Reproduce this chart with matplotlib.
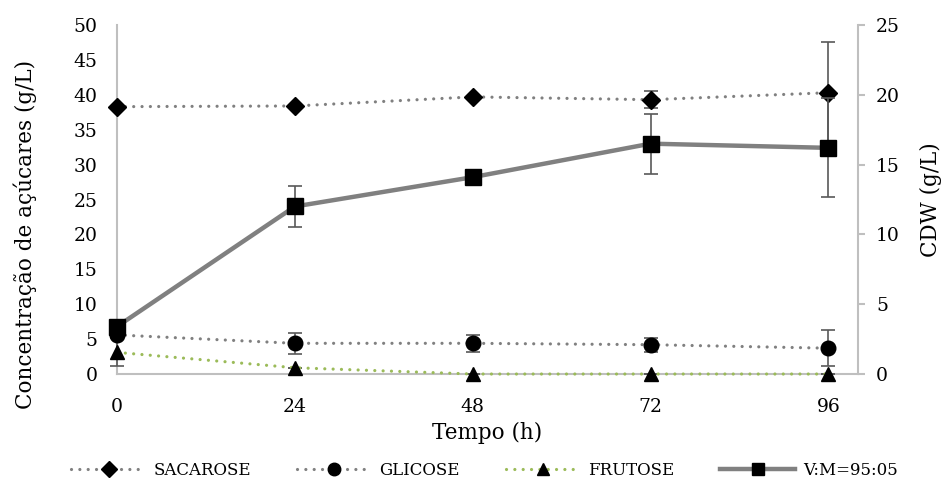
import matplotlib
matplotlib.use("Agg")
import matplotlib.pyplot as plt
from matplotlib.lines import Line2D

plt.rcParams['font.family'] = ['DejaVu Serif']

tempo = [0, 24, 48, 72, 96]
xticks_labels = ["0", "24", "48", "72", "96"]

sacarose = [38.3, 38.4, 39.7, 39.3, 40.3]
sacarose_err = [0.0, 0.0, 0.0, 1.2, 7.2]
glicose = [5.6, 4.4, 4.4, 4.2, 3.7]
glicose_err = [0.0, 1.5, 1.2, 1.0, 2.6]
frutose = [3.1, 0.9, 0.0, 0.0, 0.0]
frutose_err = [2.0, 0.0, 0.0, 0.0, 0.0]
cdw = [3.4, 12.0, 14.1, 16.5, 16.2]
cdw_err = [0.3, 1.45, 0.0, 2.15, 3.55]

gray = "#808080"
green = "#9BBB59"
errc = "#595959"

fig = plt.figure(figsize=(9.46, 4.95), dpi=100)
ax = fig.add_axes([0.1237, 0.2444, 0.907 - 0.1237, 0.9495 - 0.2444])
ax2 = ax.twinx()

dot = (0, (0.01, 2.6))
ekw = dict(ecolor=errc, elinewidth=1.2, capsize=5, capthick=1.2, clip_on=False)
ax.errorbar(tempo, sacarose, yerr=sacarose_err, color=gray, ls=dot,
            dash_capstyle='round', lw=2.3, marker='D', ms=9, mfc='black', mec='black',
            **ekw, zorder=3)
ax.errorbar(tempo, glicose, yerr=glicose_err, color=gray, ls=dot,
            dash_capstyle='round', lw=2.3, marker='o', ms=10.5, mfc='black', mec='black',
            **ekw, zorder=3)
ax.errorbar(tempo, frutose, yerr=frutose_err, color=green, ls=dot,
            dash_capstyle='round', lw=2.3, marker='^', ms=10, mfc='black', mec='black',
            **ekw, zorder=3)
ax2.errorbar(tempo, cdw, yerr=cdw_err, color=gray, ls='-', lw=3.2,
             marker='s', ms=11, mfc='black', mec='black', **ekw, zorder=3)

ax.set_xlim(0, 100)
ax.set_ylim(0, 50)
ax2.set_ylim(0, 25)
ax.set_xticks(tempo)
ax.set_xticklabels(xticks_labels)
ax.set_yticks(range(0, 51, 5))
ax2.set_yticks(range(0, 26, 5))

for a in (ax, ax2):
    for s in a.spines.values():
        s.set_visible(False)
ax.spines['left'].set_visible(True)
ax.spines['bottom'].set_visible(True)
ax2.spines['right'].set_visible(True)
for s in (ax.spines['left'], ax.spines['bottom'], ax2.spines['right']):
    s.set_color("#BFBFBF")
    s.set_linewidth(1.5)
    s.set_zorder(1)

ax.tick_params(axis='y', length=0, pad=14, labelsize=13.5)
ax.tick_params(axis='x', length=0, pad=17, labelsize=13.5)
ax2.tick_params(axis='y', length=5, width=1.5, color="#BFBFBF", pad=8, labelsize=13.5)

ax.set_xlabel("Tempo (h)", fontsize=15.5)
ax.set_ylabel("Concentração de açúcares (g/L)", fontsize=15.5)
ax2.set_ylabel("CDW (g/L)", fontsize=15.5)
ax.xaxis.set_label_coords(0.5, -0.1375)
ax.yaxis.set_label_coords(-0.108, 0.40)
ax2.yaxis.set_label_coords(1.0837, 0.5)

handles = [
    Line2D([], [], color=gray, ls=dot, dash_capstyle='round', lw=2.3,
           marker='D', ms=8, mfc='black', mec='black'),
    Line2D([], [], color=gray, ls=dot, dash_capstyle='round', lw=2.3,
           marker='o', ms=9, mfc='black', mec='black'),
    Line2D([], [], color=green, ls=dot, dash_capstyle='round', lw=2.3,
           marker='^', ms=9, mfc='black', mec='black'),
    Line2D([], [], color=gray, ls='-', lw=3.2, marker='s', ms=9, mfc='black', mec='black'),
]
labels = ["SACAROSE", "GLICOSE", "FRUTOSE", "V:M=95:05"]
fig.legend(handles, labels, loc='center', bbox_to_anchor=(0.512, 0.05), ncol=4,
           frameon=False, fontsize=12, handlelength=4.5, columnspacing=2.75,
           handletextpad=0.45)

fig.savefig("out.png", dpi=100)
